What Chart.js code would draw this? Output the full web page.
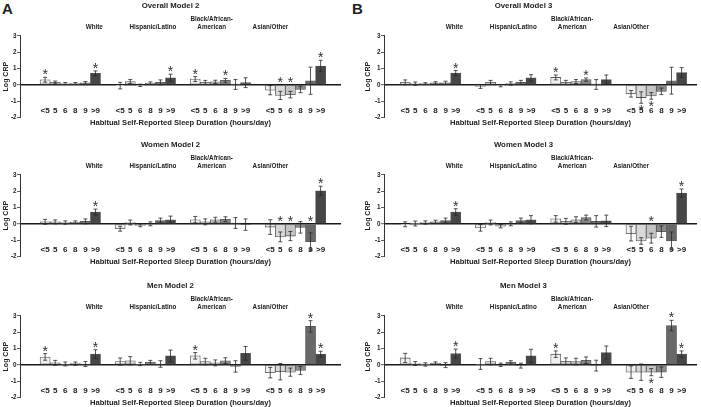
<!DOCTYPE html>
<html><head><meta charset="utf-8">
<script src="https://cdn.jsdelivr.net/npm/chart.js@4"></script>
<style>
html,body{margin:0;padding:0;background:#fff;}
body{width:701px;height:407px;overflow:hidden;position:relative;font-family:"Liberation Sans",Arial,sans-serif;}
.pl{position:absolute;font-size:15px;line-height:15px;color:#222;font-weight:bold;}
canvas{position:absolute;}
</style></head><body>
<div class="pl" style="left:2px;top:1px">A</div>
<div class="pl" style="left:352px;top:1px">B</div>
<canvas id="c0" width="342" height="127" style="left:0;top:0"></canvas>
<canvas id="c1" width="348" height="127" style="left:350px;top:0"></canvas>
<canvas id="c2" width="342" height="127" style="left:0;top:139px"></canvas>
<canvas id="c3" width="348" height="127" style="left:350px;top:139px"></canvas>
<canvas id="c4" width="342" height="127" style="left:0;top:280px"></canvas>
<canvas id="c5" width="348" height="127" style="left:350px;top:280px"></canvas>
<script>
const sleepLabels = ['<5','5','6','8','9','>9'];
const groupLabels = ['White','Hispanic/Latino',['Black/African-','American'],'Asian/Other'];
const yTickValues = [-2,-1,0,1,2,3];
const xTitle = 'Habitual Self-Reported Sleep Duration (hours/day)';
const yTitle = 'Log CRP';
const panelTitles = ['Overall Model 2','Overall Model 3','Women Model 2','Women Model 3','Men Model 2','Men Model 3'];

// star: 1 = asterisk above, -1 = asterisk below, 0 = none
const overall2Mean = [0.31,0.15,0.08,0.08,0.12,0.70, -0.05,0.20,-0.03,0.10,0.15,0.43, 0.35,0.15,0.18,0.27,0.02,0.13, -0.33,-0.65,-0.60,-0.28,0.25,1.15];
const overall2Err  = [0.15,0.08,0.06,0.06,0.08,0.15, 0.20,0.12,0.07,0.08,0.15,0.22, 0.15,0.12,0.10,0.12,0.30,0.30, 0.28,0.25,0.20,0.20,0.83,0.35];
const overall2Star = [1,0,0,0,0,1, 0,0,0,0,0,1, 1,0,0,1,0,0, 0,1,1,0,0,1];

const overall3Mean = [0.15,0.07,0.08,0.12,0.12,0.72, -0.10,0.15,-0.05,0.08,0.15,0.42, 0.45,0.15,0.20,0.32,0.02,0.32, -0.55,-0.78,-0.68,-0.40,0.25,0.75];
const overall3Err  = [0.15,0.10,0.05,0.07,0.10,0.15, 0.12,0.12,0.07,0.10,0.12,0.20, 0.15,0.12,0.12,0.10,0.30,0.28, 0.20,0.35,0.20,0.20,0.82,0.30];
const overall3Star = [0,0,0,0,0,1, 0,0,0,0,0,0, 1,0,0,1,0,0, 0,-1,-1,0,0,0];

const women2Mean = [0.12,0.12,0.08,0.10,0.15,0.72, -0.30,0.08,-0.10,0.00,0.20,0.25, 0.25,0.12,0.25,0.28,0.05,-0.05, -0.20,-0.80,-0.75,-0.22,-1.10,2.02];
const women2Err  = [0.15,0.12,0.10,0.08,0.15,0.18, 0.15,0.15,0.08,0.12,0.15,0.22, 0.20,0.18,0.15,0.15,0.33,0.35, 0.45,0.30,0.28,0.35,0.55,0.28];
const women2Star = [0,0,0,0,0,1, 0,0,0,0,0,0, 0,0,0,0,0,0, 0,1,1,0,1,1];

const women3Mean = [-0.03,0.02,0.08,0.12,0.20,0.72, -0.25,0.08,-0.15,0.00,0.20,0.25, 0.30,0.15,0.25,0.38,0.15,0.18, -0.60,-1.05,-0.88,-0.48,-1.05,1.88];
const women3Err  = [0.15,0.15,0.10,0.10,0.15,0.20, 0.20,0.15,0.10,0.12,0.15,0.25, 0.20,0.18,0.18,0.15,0.35,0.35, 0.45,0.20,0.30,0.35,0.55,0.25];
const women3Star = [0,0,0,0,0,1, 0,0,0,0,0,0, 0,0,0,0,0,0, 0,0,1,0,0,1];

const men2Mean = [0.48,0.12,0.05,0.07,0.05,0.65, 0.20,0.25,0.05,0.15,0.05,0.55, 0.55,0.20,0.12,0.25,-0.10,0.70, -0.48,-0.42,-0.45,-0.35,2.35,0.65];
const men2Err  = [0.20,0.15,0.12,0.10,0.15,0.27, 0.22,0.25,0.10,0.12,0.20,0.35, 0.20,0.20,0.18,0.18,0.35,0.42, 0.32,0.50,0.25,0.25,0.35,0.18];
const men2Star = [1,0,0,0,0,1, 0,0,0,0,0,0, 1,0,0,0,0,0, 0,0,0,0,1,1];

const men3Mean = [0.42,0.08,0.02,0.10,-0.02,0.68, 0.05,0.20,0.00,0.15,-0.05,0.55, 0.65,0.22,0.20,0.28,-0.05,0.75, -0.45,-0.45,-0.45,-0.45,2.40,0.65];
const men3Err  = [0.28,0.12,0.10,0.08,0.15,0.28, 0.33,0.20,0.10,0.10,0.15,0.40, 0.20,0.20,0.20,0.20,0.33,0.40, 0.38,0.50,0.22,0.32,0.32,0.20];
const men3Star = [0,0,0,0,0,1, 0,0,0,0,0,0, 1,0,0,0,0,0, 0,0,-1,0,1,1];

const FONT = '"Liberation Sans", Arial, sans-serif';
const TXT = '#222';
const barColors = ['#efefef','#d9d9d9','#c4c4c4','#8a8a8a','#686868','#464646'];
const GROUP_STEP = 7.45;

function makePanel(id, title, mean, err, star, geom) {
  const pts = mean.map((v, k) => ({x: Math.floor(k / 6) * GROUP_STEP + (k % 6), y: v}));
  const barCenters = pts.map(p => p.x);
  const groupCenters = groupLabels.map((_, g) => g * GROUP_STEP + 2.5);
  const errPlugin = {
    id: 'errbars',
    afterDatasetsDraw(chart) {
      const ctx = chart.ctx, y = chart.scales.y;
      const meta = chart.getDatasetMeta(0);
      ctx.save();
      ctx.strokeStyle = '#2a2a2a';
      ctx.lineWidth = 0.8;
      meta.data.forEach((bar, k) => {
        const x = bar.x;
        const hi = y.getPixelForValue(mean[k] + err[k]);
        const lo = y.getPixelForValue(mean[k] - err[k]);
        ctx.beginPath();
        ctx.moveTo(x, hi); ctx.lineTo(x, lo);
        ctx.moveTo(x - 2, hi); ctx.lineTo(x + 2, hi);
        ctx.moveTo(x - 2, lo); ctx.lineTo(x + 2, lo);
        ctx.stroke();
        if (star[k]) {
          ctx.fillStyle = '#333';
          ctx.font = '14px ' + FONT;
          ctx.textAlign = 'center';
          ctx.textBaseline = 'alphabetic';
          let cy;
          if (star[k] > 0) cy = y.getPixelForValue(Math.max(mean[k] + err[k], 0)) - 6;
          else cy = y.getPixelForValue(mean[k] - err[k]) + 4;
          ctx.fillText('*', x, cy + 8);
        }
      });
      ctx.restore();
    }
  };
  new Chart(document.getElementById(id), {
    type: 'bar',
    data: {datasets: [{
      data: pts,
      backgroundColor: mean.map((_, k) => barColors[k % 6]),
      borderColor: '#555',
      borderWidth: 0.8,
      borderSkipped: false,
      barPercentage: 1,
      categoryPercentage: 1
    }]},
    options: {
      responsive: false,
      animation: false,
      layout: {padding: {left: 0, right: 1, top: 0, bottom: 0}},
      plugins: {
        legend: {display: false},
        tooltip: {enabled: false},
        title: {display: true, text: title, color: TXT,
          font: {family: FONT, size: 7.8, weight: 'bold', lineHeight: 1.2},
          padding: {top: 1.3, bottom: 0}}
      },
      scales: {
        x: {
          type: 'linear', position: 'bottom', min: geom.xmin, max: geom.xmax,
          afterBuildTicks: s => { s.ticks = barCenters.map(v => ({value: v})); },
          ticks: {autoSkip: false, maxRotation: 0, mirror: true, padding: 2.2, color: TXT,
            font: {family: FONT, size: 8, weight: 'bold', lineHeight: 1.2},
            callback: (v, i) => sleepLabels[i % 6]},
          grid: {display: false, drawTicks: false},
          border: {display: false},
          title: {display: true, text: xTitle, color: TXT, padding: 0,
            font: {family: FONT, size: 7.6, weight: 'bold', lineHeight: 1.2}},
          afterFit: s => { s.height = 9.5; }
        },
        x2: {
          type: 'linear', position: 'top', min: geom.xmin, max: geom.xmax,
          afterBuildTicks: s => { s.ticks = groupCenters.map(v => ({value: v})); },
          ticks: {autoSkip: false, maxRotation: 0, padding: 5.2, color: TXT,
            font: {family: FONT, size: 6.3, weight: 'bold', lineHeight: 1.2},
            callback: (v, i) => groupLabels[i]},
          grid: {display: false, drawTicks: false},
          border: {display: false},
          afterFit: s => { s.height = 25.1; }
        },
        y: {
          min: -2, max: 3,
          afterBuildTicks: s => { s.ticks = yTickValues.map(v => ({value: v})); },
          ticks: {padding: 0.5, color: TXT,
            font: {family: FONT, size: 6.3, weight: 'bold'},
            callback: v => String(v)},
          grid: {
            color: c => (c.tick && c.tick.value === 0) ? '#1a1a1a' : 'rgba(0,0,0,0)',
            lineWidth: c => (c.tick && c.tick.value === 0) ? 1.4 : 0.8,
            tickColor: '#333', tickLength: 3, tickWidth: 0.8
          },
          border: {display: true, color: '#333', width: 1},
          title: {display: true, text: yTitle, color: TXT,
            font: {family: FONT, size: 7, weight: 'bold', lineHeight: 1.2},
            padding: {top: geom.ytp, bottom: 0}},
          afterFit: s => { s.width = geom.yw; }
        }
      }
    },
    plugins: [errPlugin]
  });
}

const geomA = {xmin: -1.83, xmax: 28.71, yw: 20, ytp: 2.2};
const geomB = {xmin: -1.45, xmax: 28.23, yw: 34, ytp: 14.3};

makePanel('c0', panelTitles[0], overall2Mean, overall2Err, overall2Star, geomA);
makePanel('c1', panelTitles[1], overall3Mean, overall3Err, overall3Star, geomB);
makePanel('c2', panelTitles[2], women2Mean, women2Err, women2Star, geomA);
makePanel('c3', panelTitles[3], women3Mean, women3Err, women3Star, geomB);
makePanel('c4', panelTitles[4], men2Mean, men2Err, men2Star, geomA);
makePanel('c5', panelTitles[5], men3Mean, men3Err, men3Star, geomB);
</script>
</body></html>
